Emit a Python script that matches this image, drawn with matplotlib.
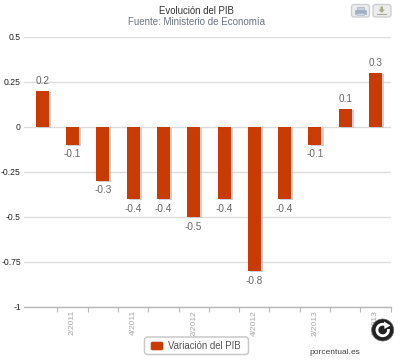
import matplotlib
matplotlib.use("Agg")
import matplotlib.pyplot as plt
import matplotlib.patheffects as pe
from matplotlib.patches import FancyBboxPatch, Rectangle, Circle, Arc, Polygon

# Data
values = [0.2, -0.1, -0.3, -0.4, -0.4, -0.5, -0.4, -0.8, -0.4, -0.1, 0.1, 0.3]
tick_labels = ["", "2/2011", "", "4/2011", "", "2/2012", "", "4/2012", "", "2/2013", "", "4/2013"]
y_ticks = [0.5, 0.25, 0, -0.25, -0.5, -0.75, -1]
y_labels = ["0.5", "0.25", "0", "-0.25", "-0.5", "-0.75", "-1"]

BAR = "#c83c04"
W, H = 400, 360

plt.rcParams["font.family"] = ["Liberation Sans", "DejaVu Sans"]
fig = plt.figure(figsize=(W / 100, H / 100), dpi=100, facecolor="white")

# axes placed in pixels
left, right, top, bottom = 24.3, 390.7, 36.5, 307
ax = fig.add_axes([left / W, 1 - bottom / H, (right - left) / W, (bottom - top) / H])
ax.set_xlim(-0.59, 11.5)
ax.set_ylim(-1, 0.5)
for s in ["top", "right", "left"]:
    ax.spines[s].set_visible(False)
ax.spines["bottom"].set_color("#b8b8b8")
ax.spines["bottom"].set_linewidth(1)
ax.set_axisbelow(True)
ax.grid(axis="y", color="#dcdcdc", linewidth=1)
ax.set_yticks(y_ticks)
ax.set_yticklabels(y_labels, fontsize=6.2, color="#222222")
ax.tick_params(axis="y", length=0, pad=2.5)

xs = list(range(len(values)))
bars = ax.bar(xs, values, width=0.43, color=BAR, zorder=3)
for b in bars:
    b.set_path_effects([pe.SimplePatchShadow(offset=(1.5, -1), shadow_rgbFace="#c4c4c4", alpha=0.8), pe.Normal()])

for x, v in zip(xs, values):
    off = 7 if v > 0 else -7
    ax.annotate(str(v), (x, v), xytext=(0, off), textcoords="offset points",
                ha="center", va="center", fontsize=7.2, color="#666666", zorder=4)

# ticks sit on the category boundaries, labels on the categories
ax.set_xticks([x + 0.5 for x in xs])
ax.set_xticklabels([])
ax.tick_params(axis="x", length=3.5, width=0.8, color="#b8b8b8", direction="out")
ax.set_xticks(xs, minor=True)
ax.set_xticklabels(tick_labels, minor=True, rotation=90, fontsize=6, color="#a8a8a8")
ax.tick_params(axis="x", which="minor", length=0, pad=2)

fig.text(196.5 / W, 1 - 10.7 / H, "Evolución del PIB", ha="center", va="center", fontsize=6.9, color="#333333")
fig.text(196.5 / W, 1 - 22 / H, "Fuente: Ministerio de Economía", ha="center", va="center", fontsize=7, color="#6d7580")
fig.text(334.5 / W, 1 - 352 / H, "porcentual.es", ha="center", va="center", fontsize=6, color="#444444")

# overlay in pixel coordinates for legend box, buttons and the reload icon
ov = fig.add_axes([0, 0, 1, 1], zorder=10)
ov.set_xlim(0, W)
ov.set_ylim(H, 0)
ov.axis("off")

ov.add_patch(FancyBboxPatch((144.5, 337), 104, 17.5, boxstyle="round,pad=0,rounding_size=3",
                            fc="white", ec="#c8c8c8", lw=1.1))
ov.add_patch(FancyBboxPatch((151, 342), 12, 8, boxstyle="round,pad=0,rounding_size=1.5", fc=BAR, ec=BAR, lw=0.4))
ov.text(168, 346, "Variación del PIB", ha="left", va="center", fontsize=6.9, color="#555555")

for bx in (351.5, 373):
    ov.add_patch(FancyBboxPatch((bx, 4.5), 18, 12.5, boxstyle="round,pad=0,rounding_size=2.5",
                                fc="#ececec", ec="#cdd0d3", lw=1))
# print icon
ov.add_patch(Rectangle((357, 6.5), 7, 3, fc="#c5d0de", ec="#9fb0c3", lw=0.5))
ov.add_patch(Rectangle((355, 9.5), 11, 4, fc="#9fb0c3", ec="#9fb0c3", lw=0.5))
ov.add_patch(Rectangle((357, 13), 7, 2, fc="#d5dde6", ec="#9fb0c3", lw=0.4))
# download icon
ov.add_patch(Polygon([(380.5, 6.5), (383, 6.5), (383, 9.5), (385, 9.5), (381.7, 13), (378.5, 9.5), (380.5, 9.5)], fc="#a8ad88", ec="none"))
ov.add_patch(Rectangle((376.5, 13.5), 10.5, 1.8, fc="#a8ad88", ec="none"))

# reload icon
ov.add_patch(Circle((382.7, 330), 11, fc="#222222", ec="#666666", lw=0.5))
ov.add_patch(Arc((382.7, 330), 11.5, 11.5, theta1=-10, theta2=300, ec="white", lw=2))
ov.add_patch(Polygon([(384, 321.5), (390.5, 325.5), (384.5, 329)], fc="white", ec="none"))

fig.savefig("out.png", dpi=100, facecolor="white")
